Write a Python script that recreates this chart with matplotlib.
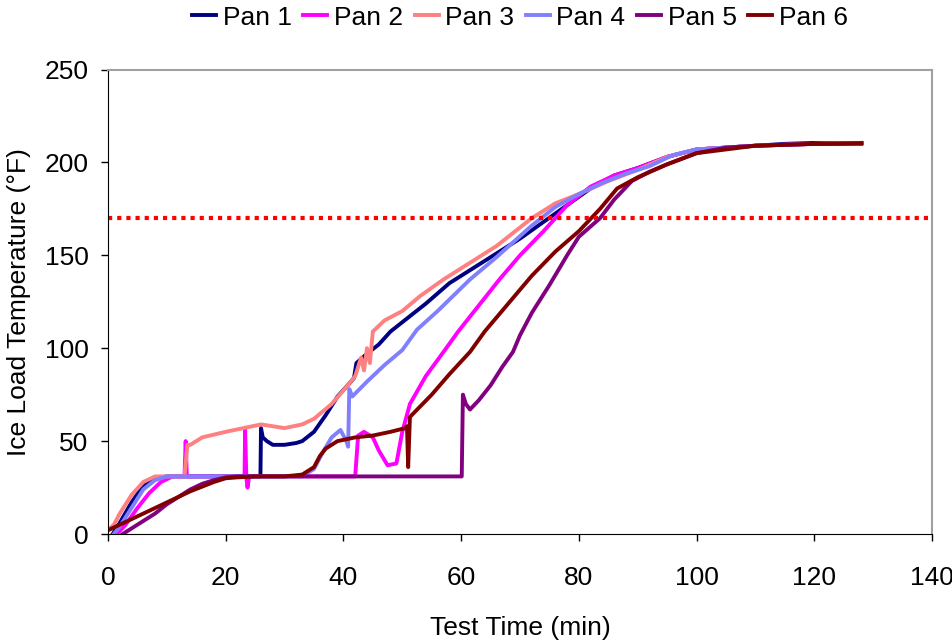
import matplotlib
matplotlib.use("Agg")
import matplotlib.pyplot as plt

plt.rcParams['font.family'] = ['Liberation Sans', 'DejaVu Sans']

# Pan temperature curves (time in min, temp in F)
pan1_t = [0.8, 2, 4, 6, 8, 10, 14, 20, 25.9, 26.0, 26.3, 27, 28, 30, 32, 33, 35, 37, 39, 41, 41.8, 42.2,
          44, 46, 48, 50, 54, 58, 62, 66, 70, 74, 78, 82, 86, 90, 95, 100, 105, 110, 115, 120, 128]
pan1_T = [0, 6, 17, 26, 30, 31, 31, 31, 31, 57, 52, 50, 48, 48, 49, 50, 55, 64, 74, 81, 84, 92,
          97, 102, 109, 114, 124, 135, 143, 151, 159, 168, 177, 186, 193, 197, 203, 207, 208, 209, 210, 210.5, 210.5]

pan2_t = [1.5, 3, 5, 7, 9, 11, 13.0, 13.2, 13.4, 16, 20, 23.2, 23.3, 23.5, 23.7, 24, 30, 36, 42, 42.5, 43.5,
          45, 46, 47.5, 49, 50, 51.3, 54, 57, 59.5, 63, 66.5, 70, 74, 78, 82, 86, 90, 95, 100, 110, 120, 128]
pan2_T = [0, 5, 14, 22, 28, 31, 31, 50, 31, 31, 31, 31, 56, 31, 25, 31, 31, 31, 31, 53, 55,
          52, 45, 37, 38, 55, 70, 85, 98, 109, 123, 137, 150, 163, 177, 187, 193, 197, 203, 207, 209, 210, 210.5]

pan3_t = [0, 1, 2, 4, 6, 8, 10, 13, 13.5, 14, 16, 20, 23, 26, 28, 30, 33, 35, 38, 41, 42, 43, 43.5, 44, 44.5,
          45, 47, 50, 53, 57, 61, 66, 72, 76, 80, 85, 90, 95, 100, 105, 110, 120, 128]
pan3_T = [2, 5, 11, 21, 28, 31, 31, 31, 48, 48, 52, 55, 57, 59, 58, 57, 59, 62, 70, 81, 85, 95, 88, 100, 92,
          109, 115, 120, 128, 137, 145, 155, 170, 178, 183, 190, 196, 203, 207, 208, 209, 210, 210.5]

pan4_t = [1, 2, 4, 6, 8, 10, 14, 20, 26, 33, 35, 36.5, 38, 39.5, 40.5, 40.8, 41.0, 41.5, 44, 47, 50, 52.5,
          56, 61.5, 66, 72, 76, 80, 84, 88, 92, 96, 100, 105, 110, 120, 128]
pan4_T = [0, 4, 14, 24, 29, 31, 31, 31, 31, 31, 35, 44, 52, 56, 50, 47, 78, 74, 82, 91, 99, 110,
          120, 137, 149, 166, 176, 183, 189, 194, 198, 204, 207, 208, 209, 210, 210.5]

pan5_t = [2.5, 4, 6, 8, 10, 12, 14, 16, 18, 20, 22, 26, 30, 40, 50, 60.1, 60.3, 60.8, 61.5, 63, 65, 67, 68.8,
          70, 72, 75, 78, 80, 83.6, 86, 89, 92, 95, 100, 105, 110, 120, 128]
pan5_T = [0, 3, 7, 11, 16, 20, 24, 27, 29, 30.5, 31, 31, 31, 31, 31, 31, 75, 70, 67, 72, 80, 90, 98,
          107, 119, 134, 150, 160, 170, 180, 190, 195, 199, 205, 208, 209, 210, 210.5]

pan6_t = [0, 2, 4, 6, 8, 10, 12, 14, 16, 18, 20, 22, 25, 30, 33, 35, 36, 37, 39, 42, 45, 48, 50.5, 50.8, 51.0,
          51.3, 55, 58, 61.5, 64, 68, 72, 76, 80, 83.6, 86.5, 90, 95, 100, 105, 110, 120, 128]
pan6_T = [2, 5, 8, 11, 14, 17, 20, 23, 25.5, 28, 30, 30.5, 31, 31, 32, 36, 42, 46, 50, 52, 53, 55, 57, 58, 36,
          63, 75, 86, 98, 109, 124, 139, 152, 163, 175, 186, 192, 199, 205, 207, 209, 210, 210]

labels = ["Pan 1", "Pan 2", "Pan 3", "Pan 4", "Pan 5", "Pan 6"]
colors = ["#000080", "#FF00FF", "#FF8080", "#8080FF", "#800080", "#800000"]
target_temp = 170

fig = plt.figure(figsize=(9.53, 6.44), dpi=100)
ax = fig.add_axes([0.1133, 0.1708, 0.8647, 0.7212])

series = [(pan1_t, pan1_T), (pan2_t, pan2_T), (pan3_t, pan3_T),
          (pan4_t, pan4_T), (pan5_t, pan5_T), (pan6_t, pan6_T)]
for (t, T), lab, c in zip(series, labels, colors):
    ax.plot(t, T, color=c, lw=2.8, label=lab, solid_joinstyle='round')

ax.plot([0, 140], [target_temp, target_temp], color="#FF0000", lw=3, ls=(0, (1, 1.2)))

ax.set_xlim(0, 140)
ax.set_ylim(0, 250)
ax.set_xticks(range(0, 141, 20))
ax.set_yticks(range(0, 251, 50))
ax.tick_params(labelsize=19, length=5, width=1, direction='out')
ax.tick_params(axis='x', pad=18)
ax.tick_params(axis='y', pad=9)
for s in ['top', 'right']:
    ax.spines[s].set_color('#A0A0A0')
    ax.spines[s].set_linewidth(1.5)
for s in ['left', 'bottom']:
    ax.spines[s].set_color('black')

ax.set_xlabel("Test Time (min)", fontsize=19, labelpad=19)
ax.set_ylabel("Ice Load Temperature (°F)", fontsize=19, labelpad=10)

ax.legend(loc='center', bbox_to_anchor=(0.5, 1.112), ncol=6, frameon=False, fontsize=19,
          handlelength=0.9, handletextpad=0.25, columnspacing=0.45, borderaxespad=0)

fig.savefig("out.png", dpi=100)
